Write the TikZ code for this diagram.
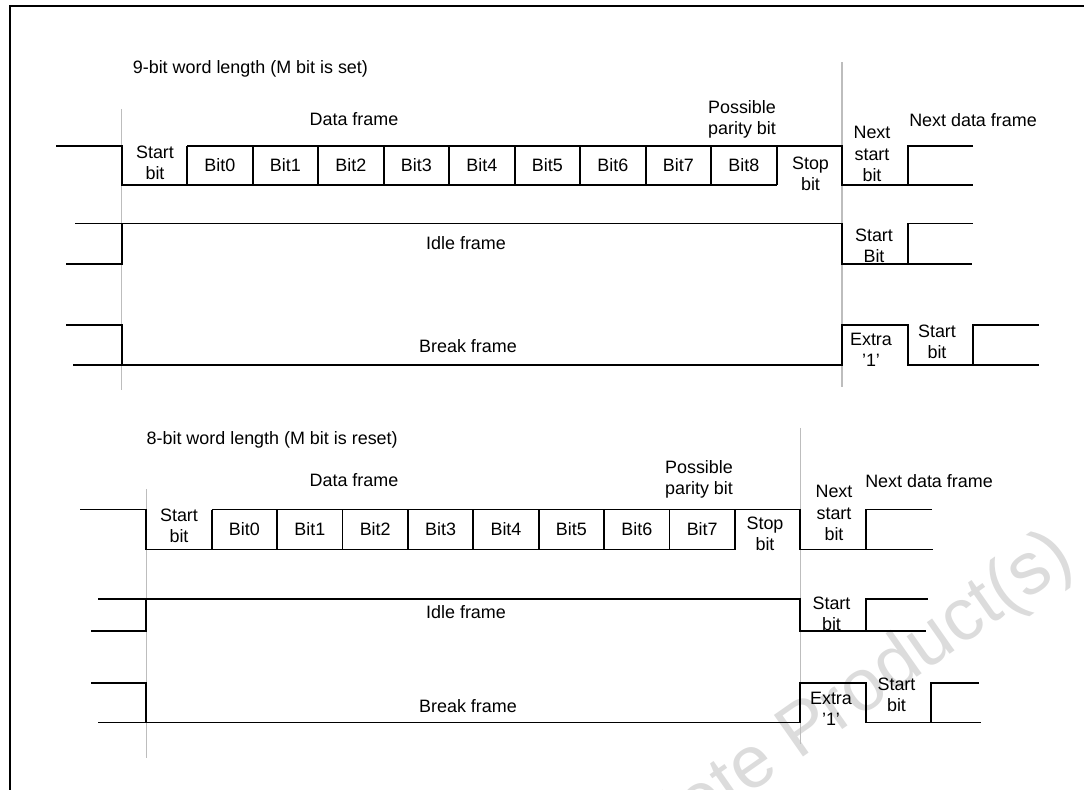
\documentclass[tikz,border=0pt]{standalone}
\usepackage{fontspec}
\setmainfont{Liberation Sans}
\usepackage{xcolor}
\definecolor{guide}{HTML}{BDBDBD}
\definecolor{faded}{HTML}{DCDCDC}

\begin{document}
\begin{tikzpicture}[every node/.style={font=\fontsize{10.2}{12}\selectfont, inner sep=0pt},
  wave/.style={line width=1.1pt},
  guideline/.style={line width=0.8pt, color=guide},
  lbl/.style={align=center}]
  \useasboundingbox (0,0) rectangle (21.68,-15.80);
  % watermark
  \node[color=faded, rotate=35, anchor=base east, font=\fontsize{42}{50}\selectfont] (wm) at (21.55,-11.30) {Obsolete Product(s)};
  % outer frame
  \draw[line width=1.3pt] (21.68,-0.12) -- (0.20,-0.12) -- (0.20,-15.80);

  % 9-bit word length
  \draw[guideline] (2.432,-2.18) -- (2.432,-7.81);
  \draw[guideline] (16.842,-1.25) -- (16.842,-7.74);
  \node[anchor=west] (title9) at (2.65,-1.38) {9-bit word length (M bit is set)};
  \draw[wave] (1.12,-2.92) -- (2.432,-2.92) -- (2.432,-3.70) -- (15.532,-3.70);
  \draw[wave] (3.742,-2.92) -- (16.842,-2.92) -- (16.842,-3.70) -- (18.152,-3.70);
  \draw[wave] (19.462,-2.92) -- (18.152,-2.92) -- (18.152,-3.70) -- (19.462,-3.70);
  \foreach \k in {1,...,10} \draw[wave] ({2.432+1.31*\k},-2.92) -- ++(0,-0.78);
  \foreach \k in {0,...,8} \node (b9\k) at ({2.432+1.31*(\k+1.5)},-3.31) {Bit\k};
  \node[lbl] (start9) at (3.10,-3.25) {Start\\bit};
  \node (data9) at (7.08,-2.39) {Data frame};
  \node[lbl] (parity9) at (14.84,-2.39) {Possible\\parity bit};
  \node[lbl] (stop9) at (16.21,-3.47) {Stop\\bit};
  \node[lbl] (nextstart9) at (17.44,-3.08) {Next\\start\\bit};
  \node (nextdata9) at (19.46,-2.41) {Next data frame};
  % idle
  \draw[wave] (1.32,-5.28) -- (2.432,-5.28) -- (2.432,-4.47);
  \draw[wave] (1.50,-4.47) -- (16.842,-4.47) -- (16.842,-5.28) -- (19.44,-5.28);
  \draw[wave] (18.152,-5.28) -- (18.152,-4.47) -- (19.46,-4.47);
  \node (idle9) at (9.32,-4.86) {Idle frame};
  \node[lbl] (idlestart9) at (17.48,-4.91) {Start\\Bit};
  % break
  \draw[wave] (1.32,-6.50) -- (2.432,-6.50) -- (2.432,-7.30);
  \draw[wave] (1.46,-7.30) -- (16.842,-7.30) -- (16.842,-6.50) -- (18.152,-6.50) -- (18.152,-7.30) -- (20.78,-7.30);
  \draw[wave] (19.462,-7.30) -- (19.462,-6.50) -- (20.78,-6.50);
  \node (break9) at (9.36,-6.92) {Break frame};
  \node[lbl] (extra9) at (17.42,-6.99) {Extra\\'1'};
  \node[lbl] (brkstart9) at (18.74,-6.83) {Start\\bit};

  % 8-bit word length
  \draw[guideline] (2.926,-9.78) -- (2.926,-15.15);
  \draw[guideline, line width=0.6pt] (16.006,-8.56) -- (16.006,-14.88);
  \node[anchor=west] (title8) at (2.926,-8.79) {8-bit word length (M bit is reset)};
  \draw[wave] (1.60,-10.19) -- (2.926,-10.19) -- (2.926,-10.99) -- (14.698,-10.99);
  \draw[wave] (4.234,-10.19) -- (16.006,-10.19) -- (16.006,-10.99);
  \draw[line width=0.7pt] (16.006,-10.99) -- (17.314,-10.99);
  \draw[wave] (18.64,-10.19) -- (17.314,-10.19) -- (17.314,-10.99) -- (18.66,-10.99);
  \foreach \k in {1,...,9} \draw[wave] ({2.926+1.308*\k},-10.19) -- ++(0,-0.80);
  \foreach \k in {0,...,7} \node (b8\k) at ({2.926+1.308*(\k+1.5)},-10.59) {Bit\k};
  \node[lbl] (start8) at (3.58,-10.51) {Start\\bit};
  \node (data8) at (7.08,-9.60) {Data frame};
  \node[lbl] (parity8) at (13.98,-9.59) {Possible\\parity bit};
  \node[lbl] (stop8) at (15.30,-10.67) {Stop\\bit};
  \node[lbl] (nextstart8) at (16.68,-10.26) {Next\\start\\bit};
  \node (nextdata8) at (18.58,-9.63) {Next data frame};
  % idle
  \draw[wave] (1.826,-12.62) -- (2.926,-12.62) -- (2.926,-11.98);
  \draw[wave] (1.96,-11.98) -- (16.006,-11.98) -- (16.006,-12.62) -- (18.52,-12.62);
  \draw[wave] (17.314,-12.62) -- (17.314,-11.98) -- (18.56,-11.98);
  \node (idle8) at (9.32,-12.24) {Idle frame};
  \node[lbl] (idlestart8) at (16.63,-12.27) {Start\\bit};
  % break
  \draw[wave] (1.826,-13.66) -- (2.926,-13.66) -- (2.926,-14.45);
  \draw[wave] (1.96,-14.45) -- (16.006,-14.45) -- (16.006,-13.66) -- (17.314,-13.66) -- (17.314,-14.45) -- (19.62,-14.45);
  \draw[wave] (18.622,-14.45) -- (18.622,-13.66) -- (19.58,-13.66);
  \node (break8) at (9.36,-14.12) {Break frame};
  \node[lbl] (extra8) at (16.62,-14.17) {Extra\\'1'};
  \node[lbl] (brkstart8) at (17.93,-13.90) {Start\\bit};
\end{tikzpicture}
\end{document}
